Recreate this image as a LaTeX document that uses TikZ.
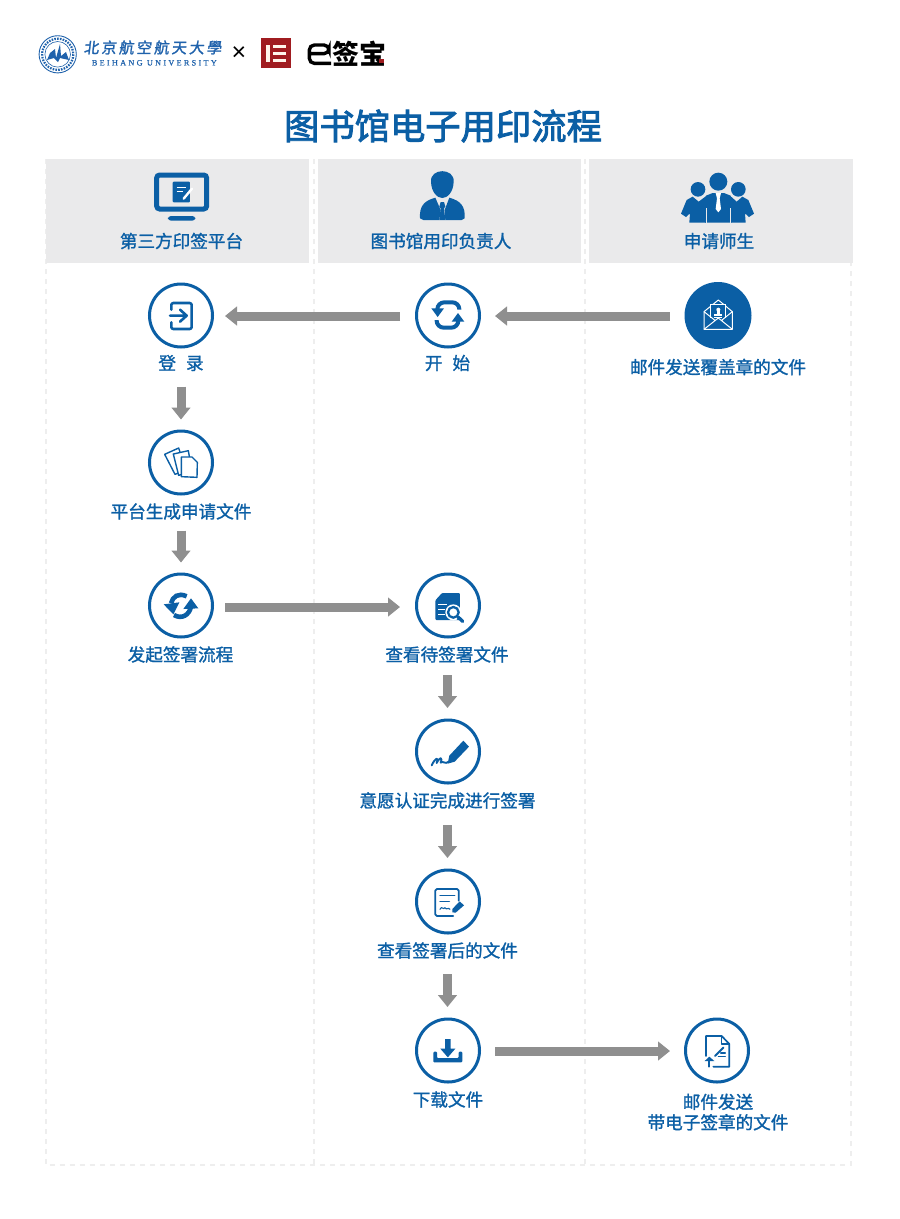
\documentclass[tikz,border=0pt]{standalone}
\usepackage{fontspec}
\usetikzlibrary{arrows.meta}
\newfontfamily\cjk{Noto Sans CJK SC}[FakeBold=1.3]
\newfontfamily\cjktitle{Noto Sans CJK SC}[FakeBold=2.6]
\newfontfamily\cjklogo{Noto Sans CJK SC}[LetterSpace=17,FakeSlant=0.12,FakeBold=1.6]
\newfontfamily\cjkblack{Noto Sans CJK SC}
\newfontfamily\serifspaced{Liberation Serif}[LetterSpace=28,FakeBold=0.6]
\newfontfamily\plainsans{Liberation Sans}
\definecolor{bh}{HTML}{0B5FA5}
\definecolor{headbg}{HTML}{EAEAEB}
\definecolor{dashc}{HTML}{EEEEEE}
\definecolor{flowc}{HTML}{8F8F8F}
\definecolor{logored}{HTML}{A01C20}
\definecolor{seal}{HTML}{1F62AC}
\tikzset{
 lanedash/.style={draw=dashc,line width=2pt,dash pattern=on 5pt off 5pt},
 headbox/.style={fill=headbg,draw=none},
 ring/.style={circle,draw=bh,line width=3pt,minimum size=63pt,inner sep=0pt,fill=white},
 ringfull/.style={circle,fill=bh,draw=none,minimum size=67pt,inner sep=0pt},
 lab/.style={text=bh,inner sep=0pt,font=\cjk\fontsize{17.6pt}{21pt}\selectfont,align=center},
 flow/.style={draw=flowc,line width=9pt,-{Triangle[length=12pt,width=18.5pt,fill=flowc]}},
 at zoom/.style 2 args={shift={(#1,#2)},x=0.33333pt,y=-0.33333pt},
 ico/.style={draw=bh,line width=1.8pt,line join=round,line cap=round},
 icofill/.style={fill=bh,draw=none},
}
\begin{document}
\begin{tikzpicture}[x=1pt,y=-1pt]
\useasboundingbox (0,0) rectangle (900,1219);
\fill[white] (0,0) rectangle (900,1219);
% lanes
\draw[lanedash] (46,159) -- (46,1165) -- (851,1165) -- (851,159);
\draw[lanedash] (313.5,159) -- (313.5,1165);
\draw[lanedash] (585,159) -- (585,1165);
% header boxes
\fill[headbox] (46,159) rectangle (309,263);
\fill[headbox] (318,159) rectangle (581,263);
\fill[headbox] (589,159) rectangle (853,263);
% title
\node[text=bh,inner sep=0pt,font=\cjktitle\fontsize{35.3pt}{40pt}\selectfont] (title) at (443,126) {图书馆电子用印流程};
% logo: seal
\draw[seal,line width=0.9pt] (57.7,54.3) circle (18.6);
\draw[seal,line width=2.2pt,dash pattern=on 1.6pt off 1.2pt] (57.7,54.3) circle (15.6);
\draw[seal,line width=0.6pt] (57.7,54.3) circle (12.8);
\fill[seal] (47,60) -- (50,53) -- (55,49) -- (56,58) -- (60,44) -- (61,56) -- (66,52) -- (69,60) -- (60,58) -- (58,62) -- (54,58) -- cycle;
\node[text=seal,inner sep=0pt,anchor=west,font=\cjklogo\fontsize{15pt}{17pt}\selectfont] (bhcn) at (83.5,47.5) {北京航空航天大學};
\node[text=seal,inner sep=0pt,anchor=west,font=\serifspaced\fontsize{8.2pt}{10pt}\selectfont] (bhen) at (91.7,62.8) {BEIHANG UNIVERSITY};
\node[text=black,inner sep=0pt,font=\plainsans\fontsize{25pt}{28pt}\selectfont] (times) at (238.8,53.5) {×};
% logo: red mark
\begin{scope}[at zoom={255}{33}]
\fill[logored] (18,16) rectangle (108,106);
\fill[white!92!orange] (34,35) rectangle (45,88);
\fill[white!92!orange] (55,35) rectangle (93,46);
\fill[white!92!orange] (55,56) rectangle (93,67);
\fill[white!92!orange] (55,77) rectangle (93,88);
\draw[black,line width=3.4pt,rounded corners=5pt] (168,62) -- (222,62) -- (222,36) -- (163,36) -- (163,91) -- (228,91);
\end{scope}
\node[text=black,inner sep=0pt,anchor=west,font=\cjkblack\bfseries\fontsize{27pt}{29pt}\selectfont] (esign) at (332.5,53.5) {签宝};
\fill[logored] (379,59) rectangle (384,63);
% header icons: monitor
\begin{scope}[at zoom={40}{155}]
\draw[draw=bh,line width=5pt,rounded corners=3pt] (350,60) rectangle (500,162);
\fill[bh,rounded corners=3pt] (384,183) rectangle (466,197);
\fill[bh,rounded corners=1pt] (398,80) rectangle (450,142);
\draw[white,line width=1.5pt] (410,97) -- (438,97) (410,109) -- (428,109);
\draw[white,line width=2.4pt,line cap=round] (431,131) -- (456,101);
\end{scope}
% person
\begin{scope}[at zoom={410}{165}]
\fill[bh] (63,50) .. controls (60,8) and (134,8) .. (131,50) .. controls (130,82) and (112,99) .. (97,99) .. controls (82,99) and (64,82) .. (63,50) -- cycle;
\fill[bh] (30,160) .. controls (28,125) and (40,108) .. (76,98) -- (92,135) -- (88,165) -- (40,165) -- cycle;
\fill[bh] (164,160) .. controls (166,125) and (154,108) .. (118,98) -- (104,135) -- (106,165) -- (155,165) -- cycle;
\fill[bh] (92,111) -- (102,111) -- (106,125) -- (102,130) -- (106,165) -- (88,165) -- (92,130) -- (88,125) -- cycle;
\end{scope}
% three people
\begin{scope}[at zoom={580}{155}]
\fill[bh] (354,103) circle (22);
\fill[bh] (475,103) circle (22);
\fill[bh] (328,203) -- (330,175) -- (318,186) -- (303,176) -- (320,135) -- (338,125) -- (356,140) -- (380,122) -- (380,203) -- cycle;
\fill[bh] (497,203) -- (495,175) -- (507,186) -- (522,176) -- (505,135) -- (487,125) -- (470,140) -- (450,122) -- (450,203) -- cycle;
\fill[bh] (375,203) -- (378,122) -- (398,114) -- (432,114) -- (452,122) -- (455,203) -- cycle;
\fill[white] (407,114) -- (423,114) -- (419,130) -- (423,162) -- (415,172) -- (407,162) -- (411,130) -- cycle;
\draw[headbg,line width=0.7pt] (378,160) -- (378,203) (450,160) -- (450,203);
\fill[bh] (415,80) circle (27);
\end{scope}
% header labels
\node[lab] (h1) at (181.5,241) {第三方印签平台};
\node[lab] (h2) at (441,241) {图书馆用印负责人};
\node[lab] (h3) at (719,241) {申请师生};
% step nodes
\node[ring] (login) at (181,315.5) {};
\node[ring] (start) at (448,315.5) {};
\node[ringfull] (mail) at (718,315.5) {};
\node[ring] (gen) at (181,462.5) {};
\node[ring] (launch) at (181,605.5) {};
\node[ring] (view) at (448,605.5) {};
\node[ring] (sign) at (448,751.5) {};
\node[ring] (signed) at (448,901.5) {};
\node[ring] (down) at (448,1050.5) {};
\node[ring] (send) at (717,1050.5) {};
% step labels
\node[lab] (llogin) at (181,363) {登\hspace{10pt}录};
\node[lab] (lstart) at (447.5,363) {开\hspace{10pt}始};
\node[lab] (lmail) at (718,367) {邮件发送覆盖章的文件};
\node[lab] (lgen) at (181,511.5) {平台生成申请文件};
\node[lab] (llaunch) at (180.5,654.5) {发起签署流程};
\node[lab] (lview) at (447,654.5) {查看待签署文件};
\node[lab] (lsign) at (447.5,800.5) {意愿认证完成进行签署};
\node[lab] (lsigned) at (447.5,950.5) {查看签署后的文件};
\node[lab] (ldown) at (448,1099.5) {下载文件};
\node[lab] (lsend) at (718,1110) {\rule{0pt}{19pt}邮件发送\\[-0.5pt]带电子签章的文件};
% connectors
\draw[flow,shorten <=14.5pt,shorten >=14pt] ([yshift=-0.5pt]mail.west) -- ([yshift=-0.5pt]start.east);
\draw[flow,shorten <=15pt,shorten >=11pt] ([yshift=-0.5pt]start.west) -- ([yshift=-0.5pt]login.east);
\draw[flow,shorten <=38pt,shorten >=10pt] (login.south) -- (gen.north);
\draw[flow,shorten <=35pt,shorten >=10pt] (gen.south) -- (launch.north);
\draw[flow,shorten <=11pt,shorten >=15pt] ([yshift=-1.5pt]launch.east) -- ([yshift=-1.5pt]view.west);
\draw[flow,shorten <=36.5pt,shorten >=10.5pt] ([xshift=-0.5pt]view.south) -- ([xshift=-0.5pt]sign.north);
\draw[flow,shorten <=40.5pt,shorten >=10.5pt] ([xshift=-0.5pt]sign.south) -- ([xshift=-0.5pt]signed.north);
\draw[flow,shorten <=39.5pt,shorten >=10.5pt] ([xshift=-0.5pt]signed.south) -- ([xshift=-0.5pt]down.north);
\draw[flow,shorten <=14pt,shorten >=14pt] ([yshift=-0.5pt]down.east) -- ([yshift=-0.5pt]send.west);
% icon: login
\begin{scope}[at zoom={130}{275}]
\draw[ico,line width=2.6pt,rounded corners=2pt] (124,104) -- (124,84) -- (185,84) -- (185,162) -- (124,162) -- (124,142);
\draw[ico,line width=2.6pt] (120,122) -- (168,122) (150,104) -- (170,122) -- (150,140);
\end{scope}
% icon: refresh square
\begin{scope}[at zoom={130}{275}]
\draw[draw=bh,line width=4pt,rounded corners=7pt] (922,104) -- (922,82) -- (988,82) -- (988,104);
\draw[draw=bh,line width=4pt,rounded corners=7pt] (985,135) -- (985,158) -- (920,158) -- (920,135);
\fill[bh] (904,100) -- (942,100) -- (923,126) -- cycle;
\fill[bh] (965,140) -- (1003,140) -- (984,114) -- cycle;
\end{scope}
% icon: documents
\begin{scope}[at zoom={130}{275}]
\draw[ico,line width=1.4pt,fill=white] (104,538) -- (146,519) -- (168,585) -- (135,598) -- cycle;
\draw[ico,line width=1.4pt,fill=white] (130,537) -- (175,527) -- (186,590) -- (146,601) -- cycle;
\draw[ico,line width=1.4pt,fill=white] (154,546) -- (186,546) -- (202,562) -- (201,607) -- (154,605) -- cycle;
\end{scope}
% icon: sync
\begin{scope}[at zoom={130}{565}]
\draw[draw=bh,line width=4.6pt] (170,94) .. controls (145,82) and (128,95) .. (123,115);
\fill[bh] (101,118) -- (148,112) -- (130,148) -- cycle;
\draw[draw=bh,line width=4.6pt] (132,150) .. controls (155,164) and (178,150) .. (183,125);
\fill[bh] (205,130) -- (160,132) -- (183,100) -- cycle;
\end{scope}
% icon: view document
\begin{scope}[at zoom={130}{565}]
\fill[bh,rounded corners=1pt] (936,84) -- (990,84) -- (990,165) -- (916,165) -- (916,106) -- cycle;
\draw[white,line width=1.4pt] (925,118) -- (950,118) (925,133) -- (945,133) (925,149) -- (945,149);
\fill[white] (970,142) circle (24);
\draw[draw=bh,line width=2.3pt] (970,142) circle (16);
\draw[draw=bh,line width=3.4pt,line cap=round] (984,156) -- (998,169);
\end{scope}
% icon: signature
\begin{scope}[at zoom={130}{565}]
\fill[bh] (1000,527) -- (1017,545) -- (974,590) -- (953,596) -- (958,572) -- cycle;
\draw[ico,line width=1.9pt] (905,601) .. controls (915,580) and (927,572) .. (920,594) .. controls (930,575) and (938,575) .. (932,593) .. controls (938,585) and (945,600) .. (956,590);
\end{scope}
% icon: signed document
\begin{scope}[at zoom={400}{860}]
\draw[ico,line width=1.7pt,rounded corners=1.5pt] (176,122) -- (176,87) -- (106,87) -- (106,168) -- (160,168);
\draw[ico,line width=1.5pt] (120,106) -- (164,106);
\draw[ico,line width=1.5pt] (120,124) -- (148,124);
\draw[ico,line width=1.1pt] (120,148) .. controls (125,135) and (130,152) .. (135,143) .. controls (140,152) and (145,140) .. (150,148);
\fill[bh] (179,124) -- (192,136) -- (167,158) -- (157,157) -- (157,147) -- cycle;
\end{scope}
% icon: download
\begin{scope}[at zoom={400}{860}]
\fill[bh,rounded corners=1pt] (100,575) -- (111,575) -- (111,594) -- (176,594) -- (176,575) -- (187,575) -- (187,607) -- (100,607) -- cycle;
\fill[bh] (135,537) -- (152,537) -- (152,566) -- (166,566) -- (143.5,592) -- (121,566) -- (135,566) -- cycle;
\end{scope}
% icon: upload document
\begin{scope}[at zoom={400}{860}]
\draw[ico,line width=1.7pt] (918,588) -- (918,528) -- (965,528) -- (988,552) -- (988,620) -- (940,620);
\draw[ico,line width=1.2pt] (965,528) -- (965,552) -- (988,552);
\draw[ico,line width=2pt] (945,588) -- (970,563);
\draw[ico,line width=1.2pt] (955,590) -- (976,590) (962,579) -- (976,579);
\draw[ico,line width=1.8pt] (928,620) -- (928,600);
\fill[bh] (914,603) -- (943,603) -- (928,590) -- cycle;
\end{scope}
% icon: envelope
\begin{scope}[at zoom={580}{155}]
\draw[white,line width=1pt,line join=round,fill=bh] (372,470) -- (415,435) -- (457,470) -- (457,523) -- (372,523) -- cycle;
\draw[white,line width=1pt,fill=bh] (392,488) -- (392,449) -- (437,449) -- (437,488);
\fill[white] (415,464) circle (6);
\fill[white] (410,468) rectangle (420,476);
\fill[white] (403,476) rectangle (427,483);
\draw[white,line width=0.8pt] (403,488) -- (427,488);
\draw[white,line width=1pt] (372,470) -- (405,496) (457,470) -- (425,496) (372,523) -- (415,489) -- (457,523);
\end{scope}
\end{tikzpicture}
\end{document}
